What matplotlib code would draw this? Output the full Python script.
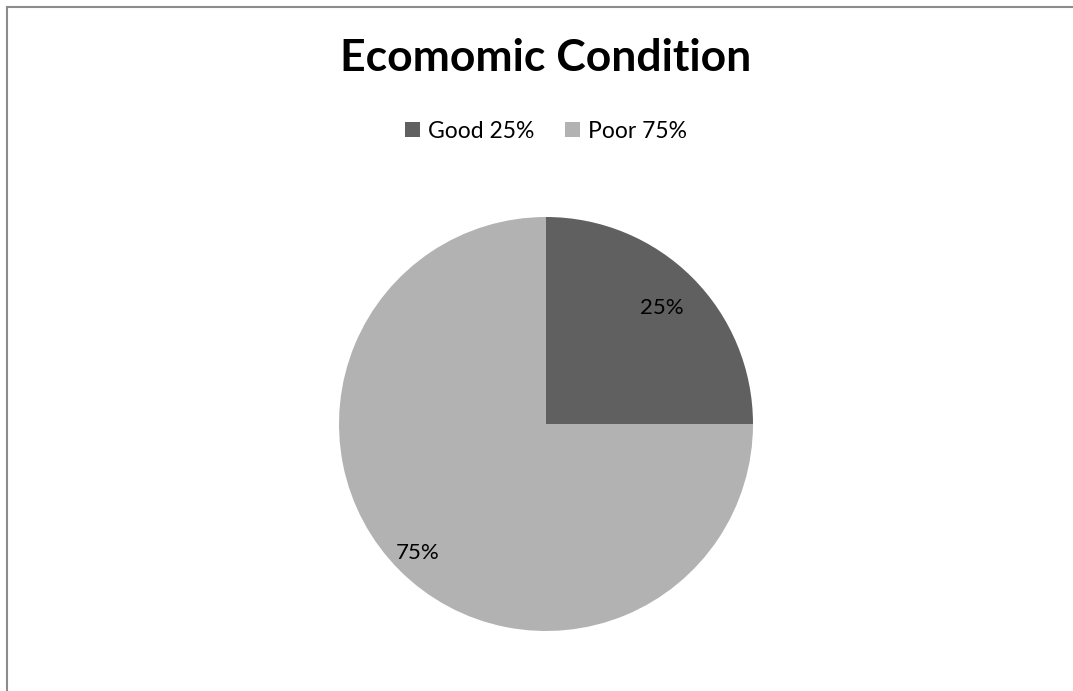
import numpy as np
import matplotlib.pyplot as plt
from matplotlib.patches import Patch
from matplotlib.lines import Line2D

plt.rcParams['font.family'] = ['Lato', 'DejaVu Sans']

# Survey result
labels = ['Good 25%', 'Poor 75%']
values = [25, 75]
colors = ['#606060', '#b2b2b2']
pct_dist = [0.79, 0.88]

W, H = 1073, 691
fig = plt.figure(figsize=(W / 100, H / 100), dpi=100)

# Chart frame (top and left edges only)
fig.add_artist(Line2D([7 / W, 7 / W], [0, 1 - 7 / H], color='#8c8c8c', lw=1.5))
fig.add_artist(Line2D([7 / W, 1], [1 - 7 / H, 1 - 7 / H], color='#8c8c8c', lw=1.5))

# Pie centered at (546, 424) px with radius 207 px
cx, cy, r = 546, 424, 207
ax = fig.add_axes([(cx - r) / W, (H - cy - r) / H, 2 * r / W, 2 * r / H])
wedges, _ = ax.pie(values, colors=colors, startangle=90, counterclock=False,
                   radius=1)
ax.set_xlim(-1, 1)
ax.set_ylim(-1, 1)
ax.set_aspect('equal')

for w, v, d in zip(wedges, values, pct_dist):
    mid = np.deg2rad((w.theta1 + w.theta2) / 2)
    ax.text(d * np.cos(mid), d * np.sin(mid), f'{v}%', ha='center', va='center',
            fontsize=16, color='#000000')

fig.text(cx / W, 1 - 58 / H, 'Ecomomic Condition', ha='center', va='center',
         fontsize=32, fontweight='bold')

handles = [Patch(facecolor=c, edgecolor='none') for c in colors]
fig.legend(handles, labels, loc='center', bbox_to_anchor=(cx / W, 1 - 131 / H),
           ncol=2, frameon=False, fontsize=16.5, handlelength=0.65, handleheight=0.65,
           handletextpad=0.35, columnspacing=1.35)

fig.savefig('out.png', dpi=100)
